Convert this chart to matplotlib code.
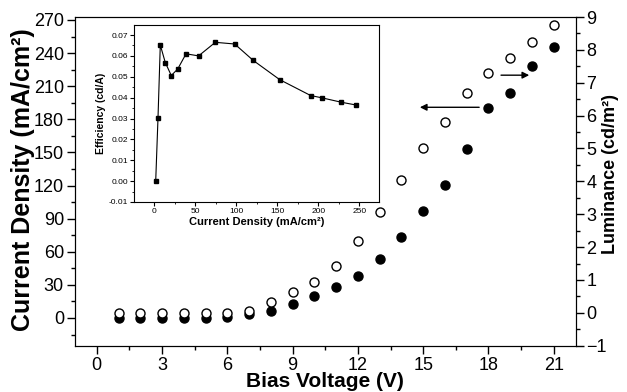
import matplotlib
matplotlib.use("Agg")
import matplotlib.pyplot as plt
from matplotlib.ticker import MultipleLocator

plt.rcParams['font.family'] = ['Liberation Sans', 'DejaVu Sans']

# Main data
voltage = [1, 2, 3, 4, 5, 6, 7, 8, 9, 10, 11, 12, 13, 14, 15, 16, 17, 18, 19, 20, 21]
current_density = [0.2, 0.3, 0.3, 0.4, 0.3, 0.9, 3.6, 6.3, 12.7, 19.7, 27.8, 37.8, 53.2,
                   73.4, 97.2, 120.2, 152.8, 190.3, 203.9, 228.3, 245.5]
luminance = [0.0, 0.0, 0.0, 0.0, 0.0, 0.0, 0.06, 0.34, 0.63, 0.94, 1.41, 2.18, 3.06,
             4.05, 5.01, 5.80, 6.69, 7.30, 7.75, 8.24, 8.76]

# Inset data
inset_cd = [1.7, 4.5, 7.3, 13.4, 20.7, 28.5, 38.7, 54, 74.4, 98, 120.7, 153, 190.7, 204.5, 228, 245.6]
inset_eff = [0.0, 0.0303, 0.0652, 0.0568, 0.0506, 0.0537, 0.0610, 0.0600, 0.0665, 0.0657,
             0.0578, 0.0486, 0.0410, 0.0399, 0.0378, 0.0365]

W, H = 627, 392
fig = plt.figure(figsize=(W / 100, H / 100), dpi=100)

ax = fig.add_axes([75 / W, (H - 345.7) / H, 500.5 / W, 328.7 / H])
ax.set_xlim(-1, 22)
ax.set_ylim(-25.1, 272.7)
ax.plot(voltage, current_density, 'o', color='black', markersize=6.5, zorder=3)
ax.set_xticks(range(0, 22, 3))
ax.xaxis.set_minor_locator(MultipleLocator(1.5))
ax.set_yticks(range(0, 271, 30))
ax.yaxis.set_minor_locator(MultipleLocator(15))
ax.tick_params(which='major', direction='out', length=6, width=1, labelsize=13, pad=2)
ax.tick_params(which='minor', direction='out', length=3, width=1)
ax.set_xlabel('Bias Voltage (V)', fontsize=15, fontweight='bold', labelpad=-1)
ax.set_ylabel('Current Density (mA/cm²)', fontsize=18, fontweight='bold')
ax.yaxis.set_label_coords((35 - 75) / 500.5, (345.7 - 180) / 328.7)

ax2 = ax.twinx()
ax2.set_ylim(-1, 9)
ax2.plot(voltage, luminance, 'o', markerfacecolor='white', markeredgecolor='black',
         markeredgewidth=1.0, markersize=6.5, zorder=3)
ax2.set_yticks(range(-1, 10, 1))
ax2.yaxis.set_minor_locator(MultipleLocator(0.5))
ax2.tick_params(which='major', direction='out', length=6, width=1, labelsize=13, pad=2)
ax2.tick_params(which='minor', direction='out', length=3, width=1)
ax2.set_ylabel('Luminance (cd/m²)', fontsize=13, fontweight='bold')
ax2.yaxis.set_label_coords((602 - 75) / 500.5, (345.7 - 174) / 328.7)

# Arrows
ax.annotate('', xy=(14.72, 190.9), xytext=(17.7, 190.9),
            arrowprops=dict(arrowstyle='-|>', color='black', lw=1, mutation_scale=10))
ax2.annotate('', xy=(20.0, 7.23), xytext=(18.45, 7.23),
             arrowprops=dict(arrowstyle='-|>', color='black', lw=1, mutation_scale=10))

# Inset
axi = fig.add_axes([134.3 / W, (H - 202) / H, (379 - 134.3) / W, 177 / H])
axi.plot(inset_cd, inset_eff, '-s', color='black', lw=0.8, markersize=2.5)
axi.set_xlim(-24.4, 274)
axi.set_ylim(-0.01, 0.0748)
axi.set_xticks(range(0, 251, 50))
axi.xaxis.set_minor_locator(MultipleLocator(25))
axi.set_yticks([-0.01, 0.0, 0.01, 0.02, 0.03, 0.04, 0.05, 0.06, 0.07])
axi.set_yticklabels(['-0.01', '0.00', '0.01', '0.02', '0.03', '0.04', '0.05', '0.06', '0.07'])
axi.yaxis.set_minor_locator(MultipleLocator(0.005))
axi.tick_params(which='major', direction='out', length=3, width=0.8, labelsize=6, pad=1.5)
axi.tick_params(which='minor', direction='out', length=1.5, width=0.6)
axi.set_xlabel('Current Density (mA/cm²)', fontsize=8, fontweight='bold', labelpad=1)
axi.set_ylabel('Efficiency (cd/A)', fontsize=7.5, fontweight='bold', labelpad=2)

fig.savefig('out.png', dpi=100)
